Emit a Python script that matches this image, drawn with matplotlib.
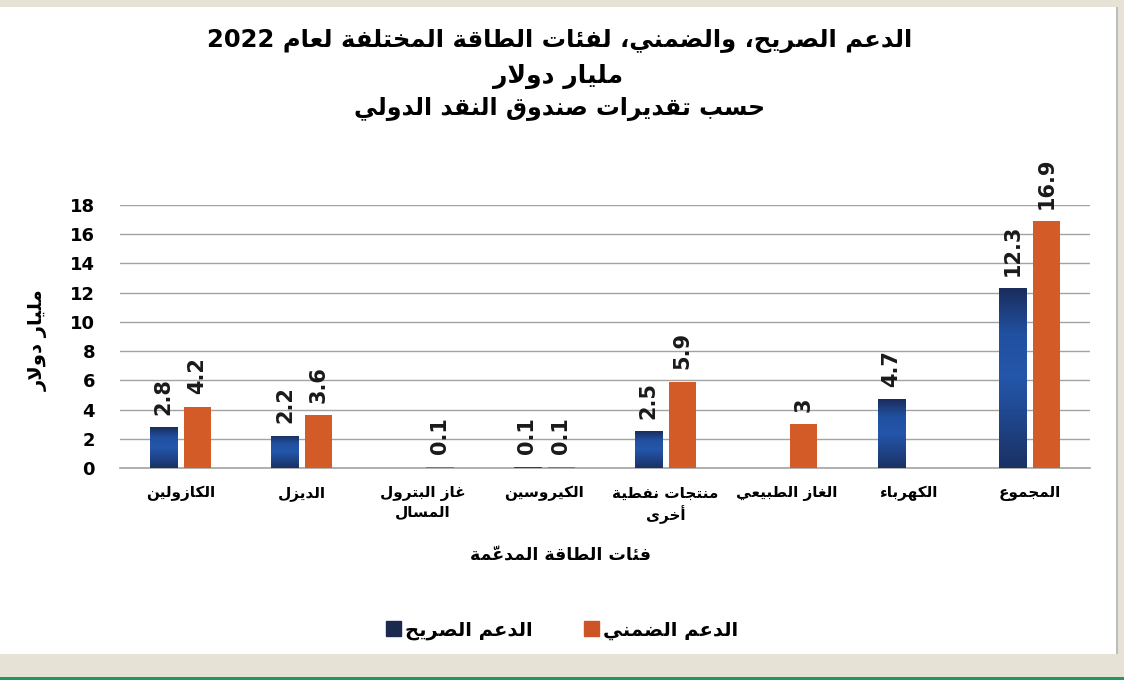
import numpy as np
import matplotlib
matplotlib.use("Agg")
import matplotlib.pyplot as plt
from matplotlib.colors import LinearSegmentedColormap
from matplotlib.patches import Rectangle
from matplotlib import font_manager
from matplotlib.ft2font import FT2Font, LoadFlags

# ---------------- data ----------------
categories = ["الكازولين", "الديزل", "غاز البترول\nالمسال", "الكيروسين",
              "منتجات نفطية\nأخرى", "الغاز الطبيعي", "الكهرباء", "المجموع"]
explicit = [2.8, 2.2, np.nan, 0.1, 2.5, np.nan, 4.7, 12.3]
implicit = [4.2, 3.6, 0.1, 0.1, 5.9, 3.0, np.nan, 16.9]
explicit_labels = ["2.8", "2.2", "", "0.1", "2.5", "", "4.7", "12.3"]
implicit_labels = ["4.2", "3.6", "0.1", "0.1", "5.9", "3", "", "16.9"]
series_names = ["الدعم الصريح", "الدعم الضمني"]
title_lines = ["الدعم الصريح، والضمني، لفئات الطاقة المختلفة لعام 2022",
               "مليار دولار",
               "حسب تقديرات صندوق النقد الدولي"]
y_label = "مليار دولار"
x_label = "فئات الطاقة المدعّمة"
y_ticks = [0, 2, 4, 6, 8, 10, 12, 14, 16, 18]

# ---------------- minimal Arabic shaping ----------------
def _f(iso, fin, ini=None, med=None):
    return (chr(iso), chr(fin), chr(ini) if ini else None, chr(med) if med else None)

FORMS = {
    'ء': (chr(0xFE80), chr(0xFE80), None, None),
    'آ': _f(0xFE81, 0xFE82), 'أ': _f(0xFE83, 0xFE84), 'ؤ': _f(0xFE85, 0xFE86),
    'إ': _f(0xFE87, 0xFE88), 'ئ': _f(0xFE89, 0xFE8A, 0xFE8B, 0xFE8C),
    'ا': _f(0xFE8D, 0xFE8E), 'ب': _f(0xFE8F, 0xFE90, 0xFE91, 0xFE92),
    'ة': _f(0xFE93, 0xFE94), 'ت': _f(0xFE95, 0xFE96, 0xFE97, 0xFE98),
    'ث': _f(0xFE99, 0xFE9A, 0xFE9B, 0xFE9C), 'ج': _f(0xFE9D, 0xFE9E, 0xFE9F, 0xFEA0),
    'ح': _f(0xFEA1, 0xFEA2, 0xFEA3, 0xFEA4), 'خ': _f(0xFEA5, 0xFEA6, 0xFEA7, 0xFEA8),
    'د': _f(0xFEA9, 0xFEAA), 'ذ': _f(0xFEAB, 0xFEAC), 'ر': _f(0xFEAD, 0xFEAE),
    'ز': _f(0xFEAF, 0xFEB0), 'س': _f(0xFEB1, 0xFEB2, 0xFEB3, 0xFEB4),
    'ش': _f(0xFEB5, 0xFEB6, 0xFEB7, 0xFEB8), 'ص': _f(0xFEB9, 0xFEBA, 0xFEBB, 0xFEBC),
    'ض': _f(0xFEBD, 0xFEBE, 0xFEBF, 0xFEC0), 'ط': _f(0xFEC1, 0xFEC2, 0xFEC3, 0xFEC4),
    'ظ': _f(0xFEC5, 0xFEC6, 0xFEC7, 0xFEC8), 'ع': _f(0xFEC9, 0xFECA, 0xFECB, 0xFECC),
    'غ': _f(0xFECD, 0xFECE, 0xFECF, 0xFED0), 'ف': _f(0xFED1, 0xFED2, 0xFED3, 0xFED4),
    'ق': _f(0xFED5, 0xFED6, 0xFED7, 0xFED8), 'ك': _f(0xFED9, 0xFEDA, 0xFEDB, 0xFEDC),
    'ل': _f(0xFEDD, 0xFEDE, 0xFEDF, 0xFEE0), 'م': _f(0xFEE1, 0xFEE2, 0xFEE3, 0xFEE4),
    'ن': _f(0xFEE5, 0xFEE6, 0xFEE7, 0xFEE8), 'ه': _f(0xFEE9, 0xFEEA, 0xFEEB, 0xFEEC),
    'و': _f(0xFEED, 0xFEEE), 'ى': _f(0xFEEF, 0xFEF0),
    'ي': _f(0xFEF1, 0xFEF2, 0xFEF3, 0xFEF4),
}
LAM_ALEF = {'آ': _f(0xFEF5, 0xFEF6), 'أ': _f(0xFEF7, 0xFEF8),
            'إ': _f(0xFEF9, 0xFEFA), 'ا': _f(0xFEFB, 0xFEFC)}
MARKS = set(chr(c) for c in range(0x064B, 0x0653))

# decide where a zero-advance mark must sit relative to its base glyph
MARK_AFTER = True
try:
    _fp = font_manager.findfont(font_manager.FontProperties(family="DejaVu Sans",
                                                            weight="bold"))
    _ft = FT2Font(_fp)
    _ft.set_size(20, 72)
    _g = _ft.load_char(0x0651, LoadFlags.NO_HINTING)
    MARK_AFTER = (_g.horiBearingX < 0)
except Exception:
    MARK_AFTER = True


def _shape_word(w):
    if not any(c in FORMS for c in w):
        return w
    items = []  # [key, forms, marks]
    for c in w:
        if c in MARKS and items:
            items[-1][2] += c
        else:
            items.append([c, FORMS.get(c), ""])
    merged = []
    i = 0
    while i < len(items):
        it = items[i]
        if it[0] == 'ل' and i + 1 < len(items) and items[i + 1][0] in LAM_ALEF:
            merged.append(["LA", LAM_ALEF[items[i + 1][0]], it[2] + items[i + 1][2]])
            i += 2
        else:
            merged.append(it)
            i += 1
    out = []
    for k, (key, forms, marks) in enumerate(merged):
        if forms is None:
            out.append(key + marks)
            continue
        prev = merged[k - 1] if k > 0 else None
        nxt = merged[k + 1] if k + 1 < len(merged) else None
        pc = prev is not None and prev[1] is not None and prev[1][2] is not None
        nc = forms[2] is not None and nxt is not None and nxt[1] is not None
        if pc and nc:
            g = forms[3]
        elif pc:
            g = forms[1]
        elif nc:
            g = forms[2]
        else:
            g = forms[0]
        out.append(g + marks if MARK_AFTER else marks + g)
    return "".join(reversed(out))


def ar(text):
    lines = []
    for line in text.split("\n"):
        toks = line.split(" ")
        lines.append(" ".join(_shape_word(t) for t in reversed(toks)))
    return "\n".join(lines)


# ---------------- figure ----------------
W, H = 1124, 680
plt.rcParams["font.family"] = ["DejaVu Sans"]
plt.rcParams["font.weight"] = "bold"
fig = plt.figure(figsize=(W / 100, H / 100), dpi=100, facecolor="#e6e3d6")

# white panel + decorations (drawn below the axes)
fig.patches.append(Rectangle((0, 1 - 654 / H), 1117 / W, (654 - 7) / H,
                             transform=fig.transFigure, facecolor="white",
                             edgecolor="none", zorder=-5))
fig.patches.append(Rectangle((1116 / W, 1 - 654 / H), 2 / W, (654 - 7) / H,
                             transform=fig.transFigure, facecolor="#bdbdbd",
                             edgecolor="none", zorder=-5))
fig.patches.append(Rectangle((0, 0), 1, 3 / H, transform=fig.transFigure,
                             facecolor="#1f9a5a", edgecolor="none", zorder=-5))

ax = fig.add_axes([120 / W, 1 - 468 / H, 970 / W, 263 / H])
ax.set_facecolor("none")
ax.set_zorder(1)
x = np.arange(len(categories))
bw = 0.225
off = 0.14

blue_cmap = LinearSegmentedColormap.from_list(
    "b", ["#1a2d5c", "#2150a0", "#2456aa", "#1f4488", "#1a3164"])
bars_e = ax.bar(x - off, explicit, bw, color="#2150a0", zorder=3)
bars_i = ax.bar(x + off, implicit, bw, color="#d25b27", zorder=3)

grad = np.linspace(0, 1, 256).reshape(-1, 1)
for b in bars_e:
    h = b.get_height()
    if not np.isfinite(h) or h <= 0:
        continue
    im = ax.imshow(grad, cmap=blue_cmap, aspect="auto", origin="upper",
                   extent=[b.get_x(), b.get_x() + b.get_width(), 0, h], zorder=3.5)
    im.set_clip_path(b)

ax.set_xlim(-0.5, len(categories) - 0.5)
ax.set_ylim(0, 18)
ax.set_yticks(y_ticks)
ax.set_yticklabels([str(t) for t in y_ticks], fontsize=13, fontweight="bold")
ax.yaxis.grid(True, color="#a3a3a3", linewidth=1.0, zorder=0)
ax.axhline(0, color="#a3a3a3", linewidth=1.2, clip_on=False, zorder=2.5)
ax.set_axisbelow(True)
for s in ax.spines.values():
    s.set_visible(False)
ax.tick_params(axis="y", length=0, pad=18)
ax.tick_params(axis="x", length=0, pad=13)
ax.set_xticks(x)
ax.set_xticklabels([ar(c) for c in categories], fontsize=11, fontweight="bold",
                   linespacing=1.25, va="top")

pad_pts = 9
for bars, labels in ((bars_e, explicit_labels), (bars_i, implicit_labels)):
    for b, lab in zip(bars, labels):
        h = b.get_height()
        if not lab or not np.isfinite(h):
            continue
        ax.annotate(lab, (b.get_x() + b.get_width() / 2, h),
                    xytext=(0, pad_pts), textcoords="offset points",
                    rotation=90, ha="center", va="bottom",
                    fontsize=15, fontweight="bold", color="#1a1a1a")

# titles
fig.text(560 / W, 1 - 41 / H, ar(title_lines[0]), ha="center", va="center",
         fontsize=17.5, fontweight="bold")
fig.text(558 / W, 1 - 76 / H, ar(title_lines[1]), ha="center", va="center",
         fontsize=18, fontweight="bold")
fig.text(560 / W, 1 - 109 / H, ar(title_lines[2]), ha="center", va="center",
         fontsize=17, fontweight="bold")

fig.text(38 / W, 1 - 340 / H, ar(y_label), rotation=90, ha="center", va="center",
         fontsize=14, fontweight="bold")
fig.text(560 / W, 1 - 555 / H, ar(x_label), ha="center", va="center",
         fontsize=12.5, fontweight="bold")

# legend
handles = [Rectangle((0, 0), 1, 1, color="#1c2a4f"),
           Rectangle((0, 0), 1, 1, color="#cc5426")]
fig.legend(handles, [ar(n) for n in series_names], loc="center",
           bbox_to_anchor=(562 / W, 1 - 630 / H), ncol=2, frameon=False,
           prop={"size": 14, "weight": "bold"}, handlelength=0.8,
           handleheight=0.8, handletextpad=0.2, columnspacing=2.6)

fig.savefig("out.png", dpi=100, facecolor=fig.get_facecolor())
